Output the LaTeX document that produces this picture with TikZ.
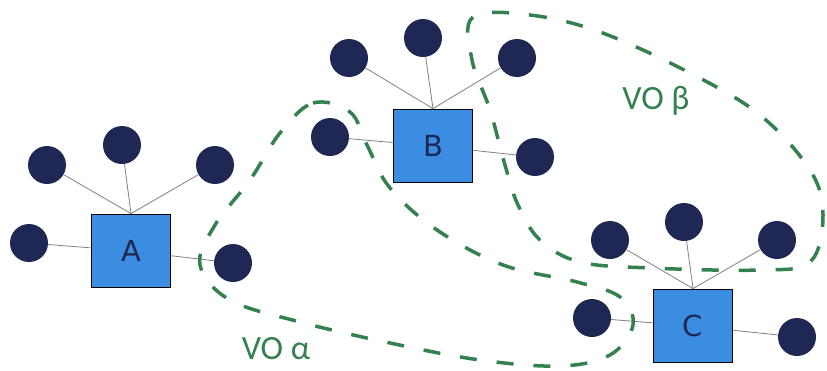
\documentclass[tikz,border=0pt]{standalone}
\usepackage{fontspec}
\setmainfont{Carlito}
\newfontfamily\boxfont{DejaVu Sans}
\usepackage{tikz}
\usetikzlibrary{positioning}

\definecolor{agentblue}{RGB}{58,141,224}
\definecolor{leafnavy}{RGB}{31,40,84}
\definecolor{vogreen}{RGB}{52,128,78}

\begin{document}
\begin{tikzpicture}[
			x = 1pt, y = -1pt,
			agent/.style = {draw = black, line width = 1.8pt, fill = agentblue,
				minimum width = 79pt, minimum height = 73pt, inner sep = 0pt,
				font = \boxfont\fontsize{29}{29}\selectfont, text = leafnavy},
			leaf/.style = {circle, fill = leafnavy, minimum size = 38pt, inner sep = 0pt},
			link/.style = {draw = gray, line width = 0.8pt},
			vo/.style = {draw = vogreen, line width = 3.5pt, dash pattern = on 17pt off 20pt},
			volabel/.style = {text = vogreen, font = \fontsize{34}{34}\selectfont}
			]

			\useasboundingbox (0,0) rectangle (827,370);

			% agents
			\node[agent] (A) at (131,251) {A};
			\node[agent] (B) at (433,146) {B};
			\node[agent] (C) at (693,326) {C};

			% leaves round each agent
			\foreach \n/\px/\py in {a1/29/243, a2/47/165, a3/122/145, a4/215/165, a5/233/263,
				b1/330/137, b2/349/58, b3/423/38, b4/517/58, b5/535/157,
				c1/592/318, c2/610/240, c3/684/222, c4/777/240, c5/797/337}{
				\node[leaf] (\n) at (\px,\py) {};
			}

			\foreach \s/\t in {a1/A, a5/A, b1/B, b5/B, c1/C, c5/C}{
				\draw[link] (\s) -- (\t);
			}
			\foreach \s/\t in {a2/A, a3/A, a4/A, b2/B, b3/B, b4/B, c2/C, c3/C, c4/C}{
				\draw[link] (\s) -- (\t.north);
			}

			% virtual organisations
			\draw[vo] plot[smooth cycle, tension = 0.6] coordinates {
				(280,133) (313,103) (350,112) (367,145) (390,188) (437,230) (503,265)
				(577,282) (620,297) (633,325) (610,355) (560,366) (480,360) (390,343)
				(300,322) (230,300) (200,265) (215,225) (250,180)};
			\draw[vo] plot[smooth cycle, tension = 0.6] coordinates {
				(473,17) (530,15) (600,32) (690,73) (760,115) (810,170) (823,215)
				(810,262) (760,270) (650,268) (580,262) (540,240) (518,205) (505,165)
				(490,110) (472,60)};

			\node[volabel] (alphalabel) at (276,349) {VO α};
			\node[volabel] (betalabel) at (656,101) {VO β};

		\end{tikzpicture}
\end{document}
